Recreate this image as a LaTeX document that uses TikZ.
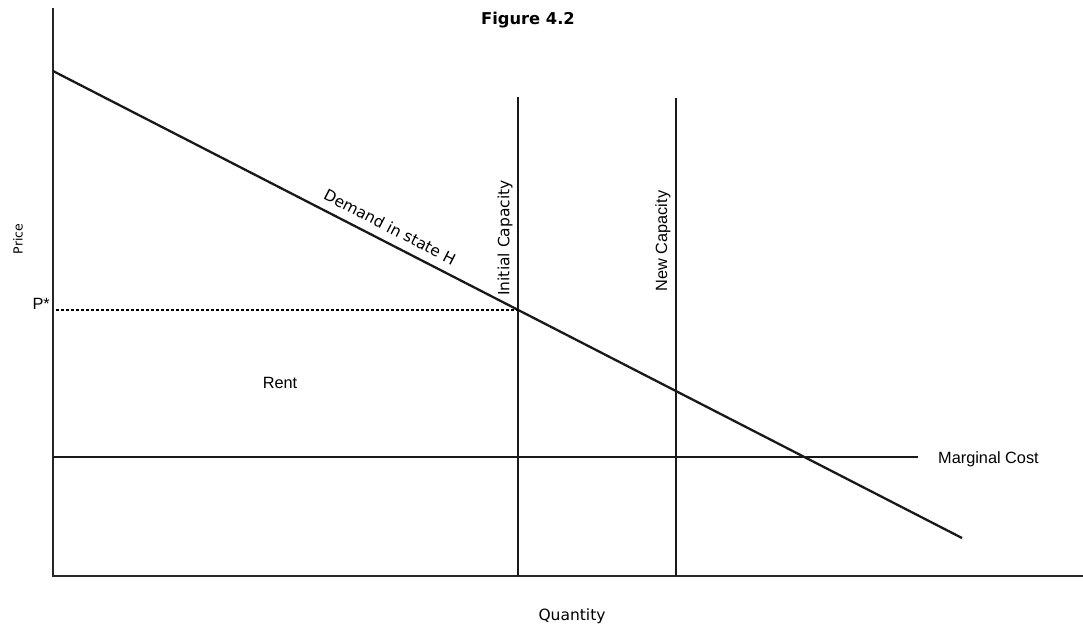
\documentclass[tikz,border=0pt]{standalone}
\usepackage{fontspec}
\setmainfont{DejaVu Sans}
\newfontfamily\helv{Liberation Sans}
\usetikzlibrary{calc}

\begin{document}
\begin{tikzpicture}[
        x=1pt, y=-1pt,
        axis/.style={draw=black!85, line width=1.5pt},
        curve/.style={draw=black!90, line width=2.3pt},
        lbl/.style={inner sep=0pt, font=\fontsize{15.5}{18}\selectfont},
        hlbl/.style={inner sep=0pt, font=\helv\fontsize{16.3}{19}\selectfont}
    ]
        \useasboundingbox (0,0) rectangle (1083,626);

        % Axes
        \coordinate (O) at (53,576);
        \coordinate (ytop) at (53,8);
        \coordinate (xend) at (1083,576);
        \draw[axis] (ytop) -- (O) -- (xend);

        % Demand and marginal cost
        \coordinate (D0) at (53,71);
        \coordinate (D1) at (962,538);
        \draw[curve] (D0) -- (D1);
        \coordinate (MC0) at (53,457);
        \coordinate (MC1) at (918,457);
        \draw[curve] (MC0) -- (MC1);

        % Capacity lines
        \coordinate (IC0) at (518,97);
        \coordinate (IC1) at (518,576);
        \coordinate (NC0) at (676,98);
        \coordinate (NC1) at (676,576);
        \draw[curve] (IC0) -- (IC1);
        \draw[curve] (NC0) -- (NC1);

        % Price level
        \coordinate (P0) at (56,310);
        \coordinate (P1) at (518,310);
        \draw[black, line width=2.5pt, dash pattern=on 2.5pt off 2.5pt] (P0) -- (P1);

        % Labels
        \node[lbl, font=\bfseries\fontsize{16.3}{19}\selectfont] (title) at (528,20) {Figure 4.2};
        \node[lbl, font=\fontsize{12.5}{15}\selectfont, rotate=90] (price) at (18,239) {Price};
        \node[lbl] (qty) at (572,616) {Quantity};
        \node[hlbl, anchor=east] (pstar) at (50,304) {P*};
        \node[hlbl] (rent) at (280,383) {Rent};
        \node[hlbl, anchor=west] (mc) at (938,459) {Marginal Cost};
        \node[lbl, rotate=90] (ic) at (505,238) {Initial Capacity};
        \node[hlbl, rotate=90] (nc) at (663,241) {New Capacity};
        \node[lbl, rotate=-27.2] (dem) at (390,227) {Demand in state H};
    \end{tikzpicture}
\end{document}
